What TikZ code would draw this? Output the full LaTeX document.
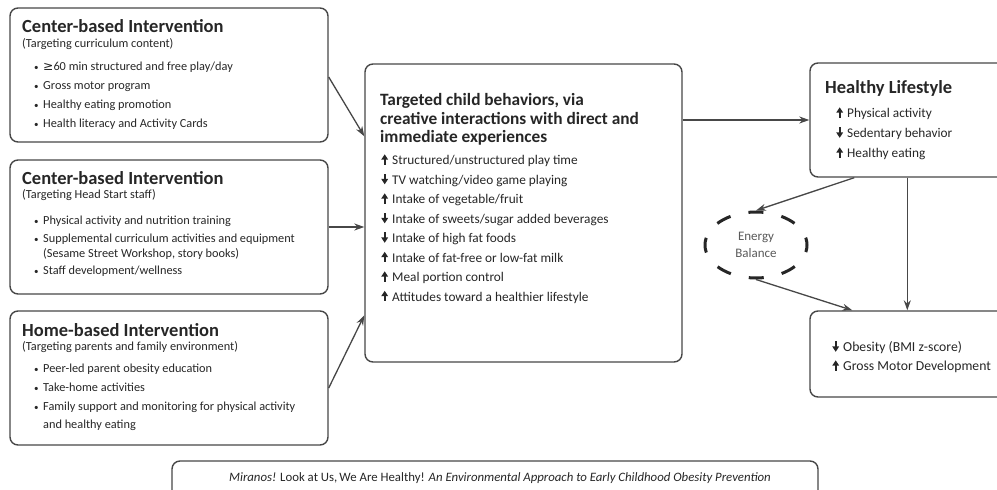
\documentclass[tikz,border=0pt]{standalone}
\usepackage{fontspec}
\setmainfont{Carlito}
\newfontfamily\symfont{DejaVu Sans}
\usetikzlibrary{positioning,shapes.geometric,arrows.meta}

\definecolor{linegray}{HTML}{474747}
\definecolor{textgray}{HTML}{262626}

% thick up / down arrows in front of the behaviours
\newcommand{\incr}{\tikz[baseline=0pt]{\fill[textgray] (2.3pt,-0.3pt) rectangle (4.7pt,5.5pt); \fill[textgray] (0pt,4.8pt) -- (7pt,4.8pt) -- (3.5pt,10.2pt) -- cycle;}\hspace{4pt}}
\newcommand{\decr}{\tikz[baseline=0pt]{\fill[textgray] (2.3pt,4.4pt) rectangle (4.7pt,10.2pt); \fill[textgray] (0pt,5.1pt) -- (7pt,5.1pt) -- (3.5pt,-0.3pt) -- cycle;}\hspace{4pt}}
\newcommand{\bul}{\makebox[9pt][l]{\fontsize{9}{9}\selectfont\textbullet}}

\tikzset{
	box/.style={draw=linegray,line width=1.4pt,rounded corners=8pt,inner sep=0pt},
	flow/.style={draw=linegray,line width=1.3pt,-{Stealth[length=10pt,width=7pt]}},
	head/.style={anchor=base west,inner sep=0pt,text=textgray,font=\fontsize{18.5}{20}\selectfont\bfseries},
	item/.style={anchor=base west,inner sep=0pt,text=textgray,font=\fontsize{12.3}{14}\selectfont},
	bigitem/.style={item,font=\fontsize{13.3}{15}\selectfont}
}

\begin{document}
\begin{tikzpicture}[x=1pt,y=-1pt]
	\useasboundingbox (0,0) rectangle (997,490);
	\clip (0,0) rectangle (997,490);
	
	% the three intervention boxes
	\node[box,minimum width=318pt,minimum height=134pt] (curr) at (169,75) {};
	\node[box,minimum width=318pt,minimum height=134pt] (staff) at (169,227) {};
	\node[box,minimum width=318pt,minimum height=134pt] (home) at (169,378) {};
	
	\node[head] (currHead) at (22,32) {Center-based Intervention};
	\node[item] (currSub) at (22,47.5) {(Targeting curriculum content)};
	\foreach \y/\t [count=\i] in {70.5/{{\symfont ≥}60 min structured and free play/day},89.5/{Gross motor program},108.5/{Healthy eating promotion},127.5/{Health literacy and Activity Cards}}
		\node[item] (curr-\i) at (34,\y) {\bul\t};
	
	\node[head] (staffHead) at (22,184) {Center-based Intervention};
	\node[item] (staffSub) at (22,198) {(Targeting Head Start staff)};
	\foreach \y/\t [count=\i] in {224.5/{Physical activity and nutrition training},242.5/{Supplemental curriculum activities and equipment},257.5/{\hspace*{9pt}(Sesame Street Workshop, story books)},274.5/{Staff development/wellness}}
		\node[item] (staff-\i) at (34,\y) {\ifnum\i=3 \else\bul\fi\t};
	
	\node[head] (homeHead) at (22,336) {Home-based Intervention};
	\node[item] (homeSub) at (22,350) {(Targeting parents and family environment)};
	\foreach \y/\t [count=\i] in {372.5/{Peer-led parent obesity education},391.5/{Take-home activities},410.5/{Family support and monitoring for physical activity},428.5/{\hspace*{9pt}and healthy eating}}
		\node[item] (home-\i) at (34,\y) {\ifnum\i=4 \else\bul\fi\t};
	
	% targeted behaviors
	\node[box,minimum width=317pt,minimum height=298pt] (beh) at (523.5,213) {};
	\foreach \y/\t [count=\i] in {105.5/{Targeted child behaviors, via},124/{creative interactions with direct and},142.5/{immediate experiences}}
		\node[head,font=\fontsize{17.3}{19}\selectfont\bfseries] (behHead-\i) at (380,\y) {\t};
	\foreach \y/\t [count=\i] in {164.5/{\incr Structured/unstructured play time},184/{\decr TV watching/video game playing},203.5/{\incr Intake of vegetable/fruit},223/{\decr Intake of sweets/sugar added beverages},242.5/{\decr Intake of high fat foods},262/{\incr Intake of fat-free or low-fat milk},281.5/{\incr Meal portion control},301/{\incr Attitudes toward a healthier lifestyle}}
		\node[bigitem] (beh-\i) at (381,\y) {\t};
	
	% outcomes
	\node[box,minimum width=230pt,minimum height=114pt] (life) at (925,120) {};
	\node[head] (lifeHead) at (825,93.5) {Healthy Lifestyle};
	\foreach \y/\t [count=\i] in {117.5/{\incr Physical activity},137.5/{\decr Sedentary behavior},157.5/{\incr Healthy eating}}
		\node[bigitem] (life-\i) at (836,\y) {\t};
	
	\node[box,minimum width=230pt,minimum height=86pt] (obes) at (925,354) {};
	\node[bigitem,font=\fontsize{13.7}{15}\selectfont] (obes-1) at (832,351.5) {\decr Obesity (BMI z-score)};
	\node[bigitem,font=\fontsize{13.7}{15}\selectfont] (obes-2) at (832,370.5) {\incr Gross Motor Development};
	
	\node[ellipse,draw=black!85,line width=3pt,dash pattern=on 15pt off 18.4pt,dash phase=7.5pt,minimum width=102pt,minimum height=66pt,inner sep=0pt,align=center,text=black!65,font=\fontsize{13}{17}\selectfont] (energy) at (756,245) {Energy\\Balance};
	
	% program title
	\node[box,minimum width=646pt,minimum height=58pt] (prog) at (495,490) {};
	\node[anchor=base,inner sep=0pt,text=textgray,font=\fontsize{12.8}{14}\selectfont] (progText) at (500,481) {\textit{Miranos!} Look at Us,\,We Are Healthy! \textit{An Environmental Approach to Early Childhood Obesity Prevention}};
	
	% connectors
	\draw[flow] ([yshift=-2pt]curr.east) -- ([yshift=-73pt]beh.north west);
	\draw[flow] (staff.east) -- (staff.east -| beh.west);
	\draw[flow] ([yshift=-10pt]home.east) -- ([yshift=-252pt]beh.north west);
	\draw[flow] (life.west -| beh.east) -- (life.west);
	\draw[flow] ([xshift=45pt]life.south west) -- (energy.north);
	\draw[flow] ([xshift=98pt]life.south west) -- ([xshift=98pt]obes.north west);
	\draw[flow] (energy.south) -- ([xshift=43pt]obes.north west);
\end{tikzpicture}
\end{document}
